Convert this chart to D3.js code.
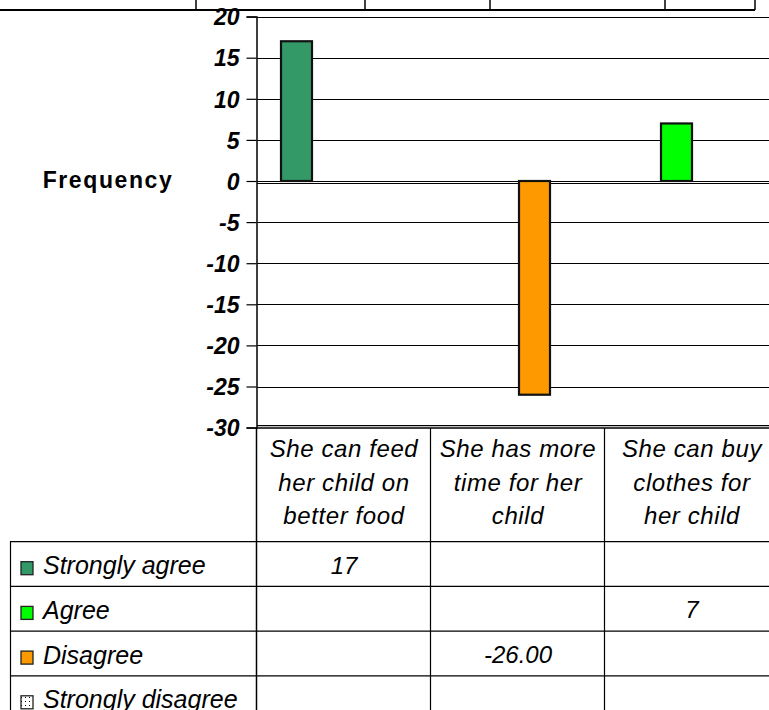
<!DOCTYPE html>
<html><head><meta charset="utf-8">
<script src="https://cdn.jsdelivr.net/npm/d3@7"></script>
<style>
html,body{margin:0;padding:0;background:#fff;overflow:hidden}
text{font-family:"Liberation Sans",Arial,sans-serif;fill:#000}
</style></head>
<body>
<svg id="c" width="769" height="710"></svg>
<script>
// ---- data ----
const categories = ["She can feed her child on better food", "She has more time for her child", "She can buy clothes for her child"];
const categoryLines = [["She can feed", "her child on", "better food"], ["She has more", "time for her", "child"], ["She can buy", "clothes for", "her child"]];
const series = ["Strongly agree", "Agree", "Disagree", "Strongly disagree"];
const stronglyAgree = [17, null, null];
const agree = [null, null, 7];
const disagree = [null, -26, null];
const stronglyDisagree = [null, null, null];
const tableLabels = [["17", "", ""], ["", "", "7"], ["", "-26.00", ""], ["", "", ""]];
const yTicks = [20, 15, 10, 5, 0, -5, -10, -15, -20, -25, -30];
const colors = ["#339966", "#00ff00", "#ff9900", "pattern"];

const seriesValues = [stronglyAgree, agree, disagree, stronglyDisagree];
const svg = d3.select("#c");

// pattern for strongly disagree
const defs = svg.append("defs");
const pat = defs.append("pattern").attr("id", "dots").attr("width", 4).attr("height", 4).attr("patternUnits", "userSpaceOnUse");
pat.append("rect").attr("width", 4).attr("height", 4).attr("fill", "#fff");
pat.append("rect").attr("x", 1).attr("y", 1).attr("width", 1).attr("height", 1).attr("fill", "#000");

const fillOf = i => colors[i] === "pattern" ? "url(#dots)" : colors[i];

// ---- scales ----
const x = d3.scaleBand().domain(categories).range([257, 779]).paddingInner(0).paddingOuter(0);
const xs = d3.scaleBand().domain(series).range([23, 151]);
const y = d3.scaleLinear().domain([-30, 20]).range([427.6, 16.6]);

// gridlines
const g = svg.append("g");
g.selectAll("line.grid").data(yTicks.filter(t => t > -30)).join("line")
  .attr("x1", 257).attr("x2", 769)
  .attr("y1", d => Math.round(y(d)) + 0.5).attr("y2", d => Math.round(y(d)) + 0.5)
  .attr("stroke", "#000").attr("stroke-width", 1.2);
// x axis at zero (double line look)
svg.append("line").attr("x1", 257).attr("x2", 769).attr("y1", Math.round(y(0)) + 2.5).attr("y2", Math.round(y(0)) + 2.5).attr("stroke", "#000").attr("stroke-width", 1.2);
// bottom border (double)
svg.append("line").attr("x1", 257).attr("x2", 769).attr("y1", y(-30) - 2).attr("y2", y(-30) - 2).attr("stroke", "#000").attr("stroke-width", 1.2);
svg.append("line").attr("x1", 257).attr("x2", 769).attr("y1", y(-30) + 0.5).attr("y2", y(-30) + 0.5).attr("stroke", "#000").attr("stroke-width", 1.5);

// y axis
const yAxis = d3.axisLeft(y).tickValues(yTicks).tickSize(10).tickPadding(7).tickFormat(d => String(d));
const ya = svg.append("g").attr("transform", "translate(256.5,0)").call(yAxis);
ya.select(".domain").attr("stroke", "#000").attr("stroke-width", 1.5);
ya.selectAll(".tick line").attr("stroke", "#000").attr("stroke-width", 1.2);
ya.selectAll(".tick text").attr("font-size", 23).attr("font-weight", "bold").attr("font-style", "italic")
  .attr("font-family", "'Liberation Sans', Arial, sans-serif").attr("fill", "#000").attr("dy", "0.36em");

// top partial table line (cut off)
svg.append("line").attr("x1", 0).attr("x2", 755).attr("y1", 10).attr("y2", 10).attr("stroke", "#000").attr("stroke-width", 2);
[196, 365, 490, 665, 755].forEach(v => svg.append("line").attr("x1", v).attr("x2", v).attr("y1", 0).attr("y2", 10).attr("stroke", "#000").attr("stroke-width", 1.5));

// bars
series.forEach((s, si) => {
  const vals = seriesValues[si];
  svg.append("g").selectAll("rect").data(categories.map((c, ci) => ({c, v: vals[ci]})).filter(d => d.v !== null)).join("rect")
    .attr("x", d => x(d.c) + xs(s) + 1)
    .attr("width", xs.bandwidth() - 1)
    .attr("y", d => y(Math.max(0, d.v)))
    .attr("height", d => Math.abs(y(d.v) - y(0)))
    .attr("fill", fillOf(si))
    .attr("stroke", "#111").attr("stroke-width", 2.2);
});

// y title
svg.append("text").attr("x", 108).attr("y", 188).attr("text-anchor", "middle")
  .attr("font-size", 23).attr("font-weight", "bold").attr("letter-spacing", 1.6).text("Frequency");

// category header table
[431, 605].forEach(v => svg.append("line").attr("x1", v - 0.5).attr("x2", v - 0.5).attr("y1", 428).attr("y2", 710).attr("stroke", "#000").attr("stroke-width", 1.2));
svg.append("line").attr("x1", 256.5).attr("x2", 256.5).attr("y1", 428).attr("y2", 710).attr("stroke", "#000").attr("stroke-width", 1.5);
categories.forEach((c, ci) => {
  const cx = x(c) + x.bandwidth() / 2;
  categoryLines[ci].forEach((ln, li) => {
    svg.append("text").attr("x", cx).attr("y", 457 + li * 33.5).attr("text-anchor", "middle")
      .attr("font-size", 24).attr("font-style", "italic").attr("letter-spacing", 0.6).text(ln);
  });
});

// data table
const rowTop = 541.7, rowH = 44.7;
svg.append("line").attr("x1", 10.5).attr("x2", 10.5).attr("y1", rowTop).attr("y2", 710).attr("stroke", "#000").attr("stroke-width", 1.2);
series.forEach((s, si) => {
  const ry = rowTop + si * rowH;
  svg.append("line").attr("x1", 10).attr("x2", 769).attr("y1", ry).attr("y2", ry).attr("stroke", "#000").attr("stroke-width", 1.2);
  svg.append("rect").attr("x", 21).attr("y", ry + 20).attr("width", 12).attr("height", 13)
    .attr("fill", fillOf(si)).attr("stroke", "#222").attr("stroke-width", 1.3);
  svg.append("text").attr("x", 43).attr("y", ry + 32.5).attr("font-size", 25).attr("font-style", "italic").text(s);
  tableLabels[si].forEach((t, ci) => {
    if (!t) return;
    svg.append("text").attr("x", x(categories[ci]) + x.bandwidth() / 2).attr("y", ry + 32)
      .attr("text-anchor", "middle").attr("font-size", 24).attr("font-style", "italic").text(t);
  });
});
</script>
</body></html>
